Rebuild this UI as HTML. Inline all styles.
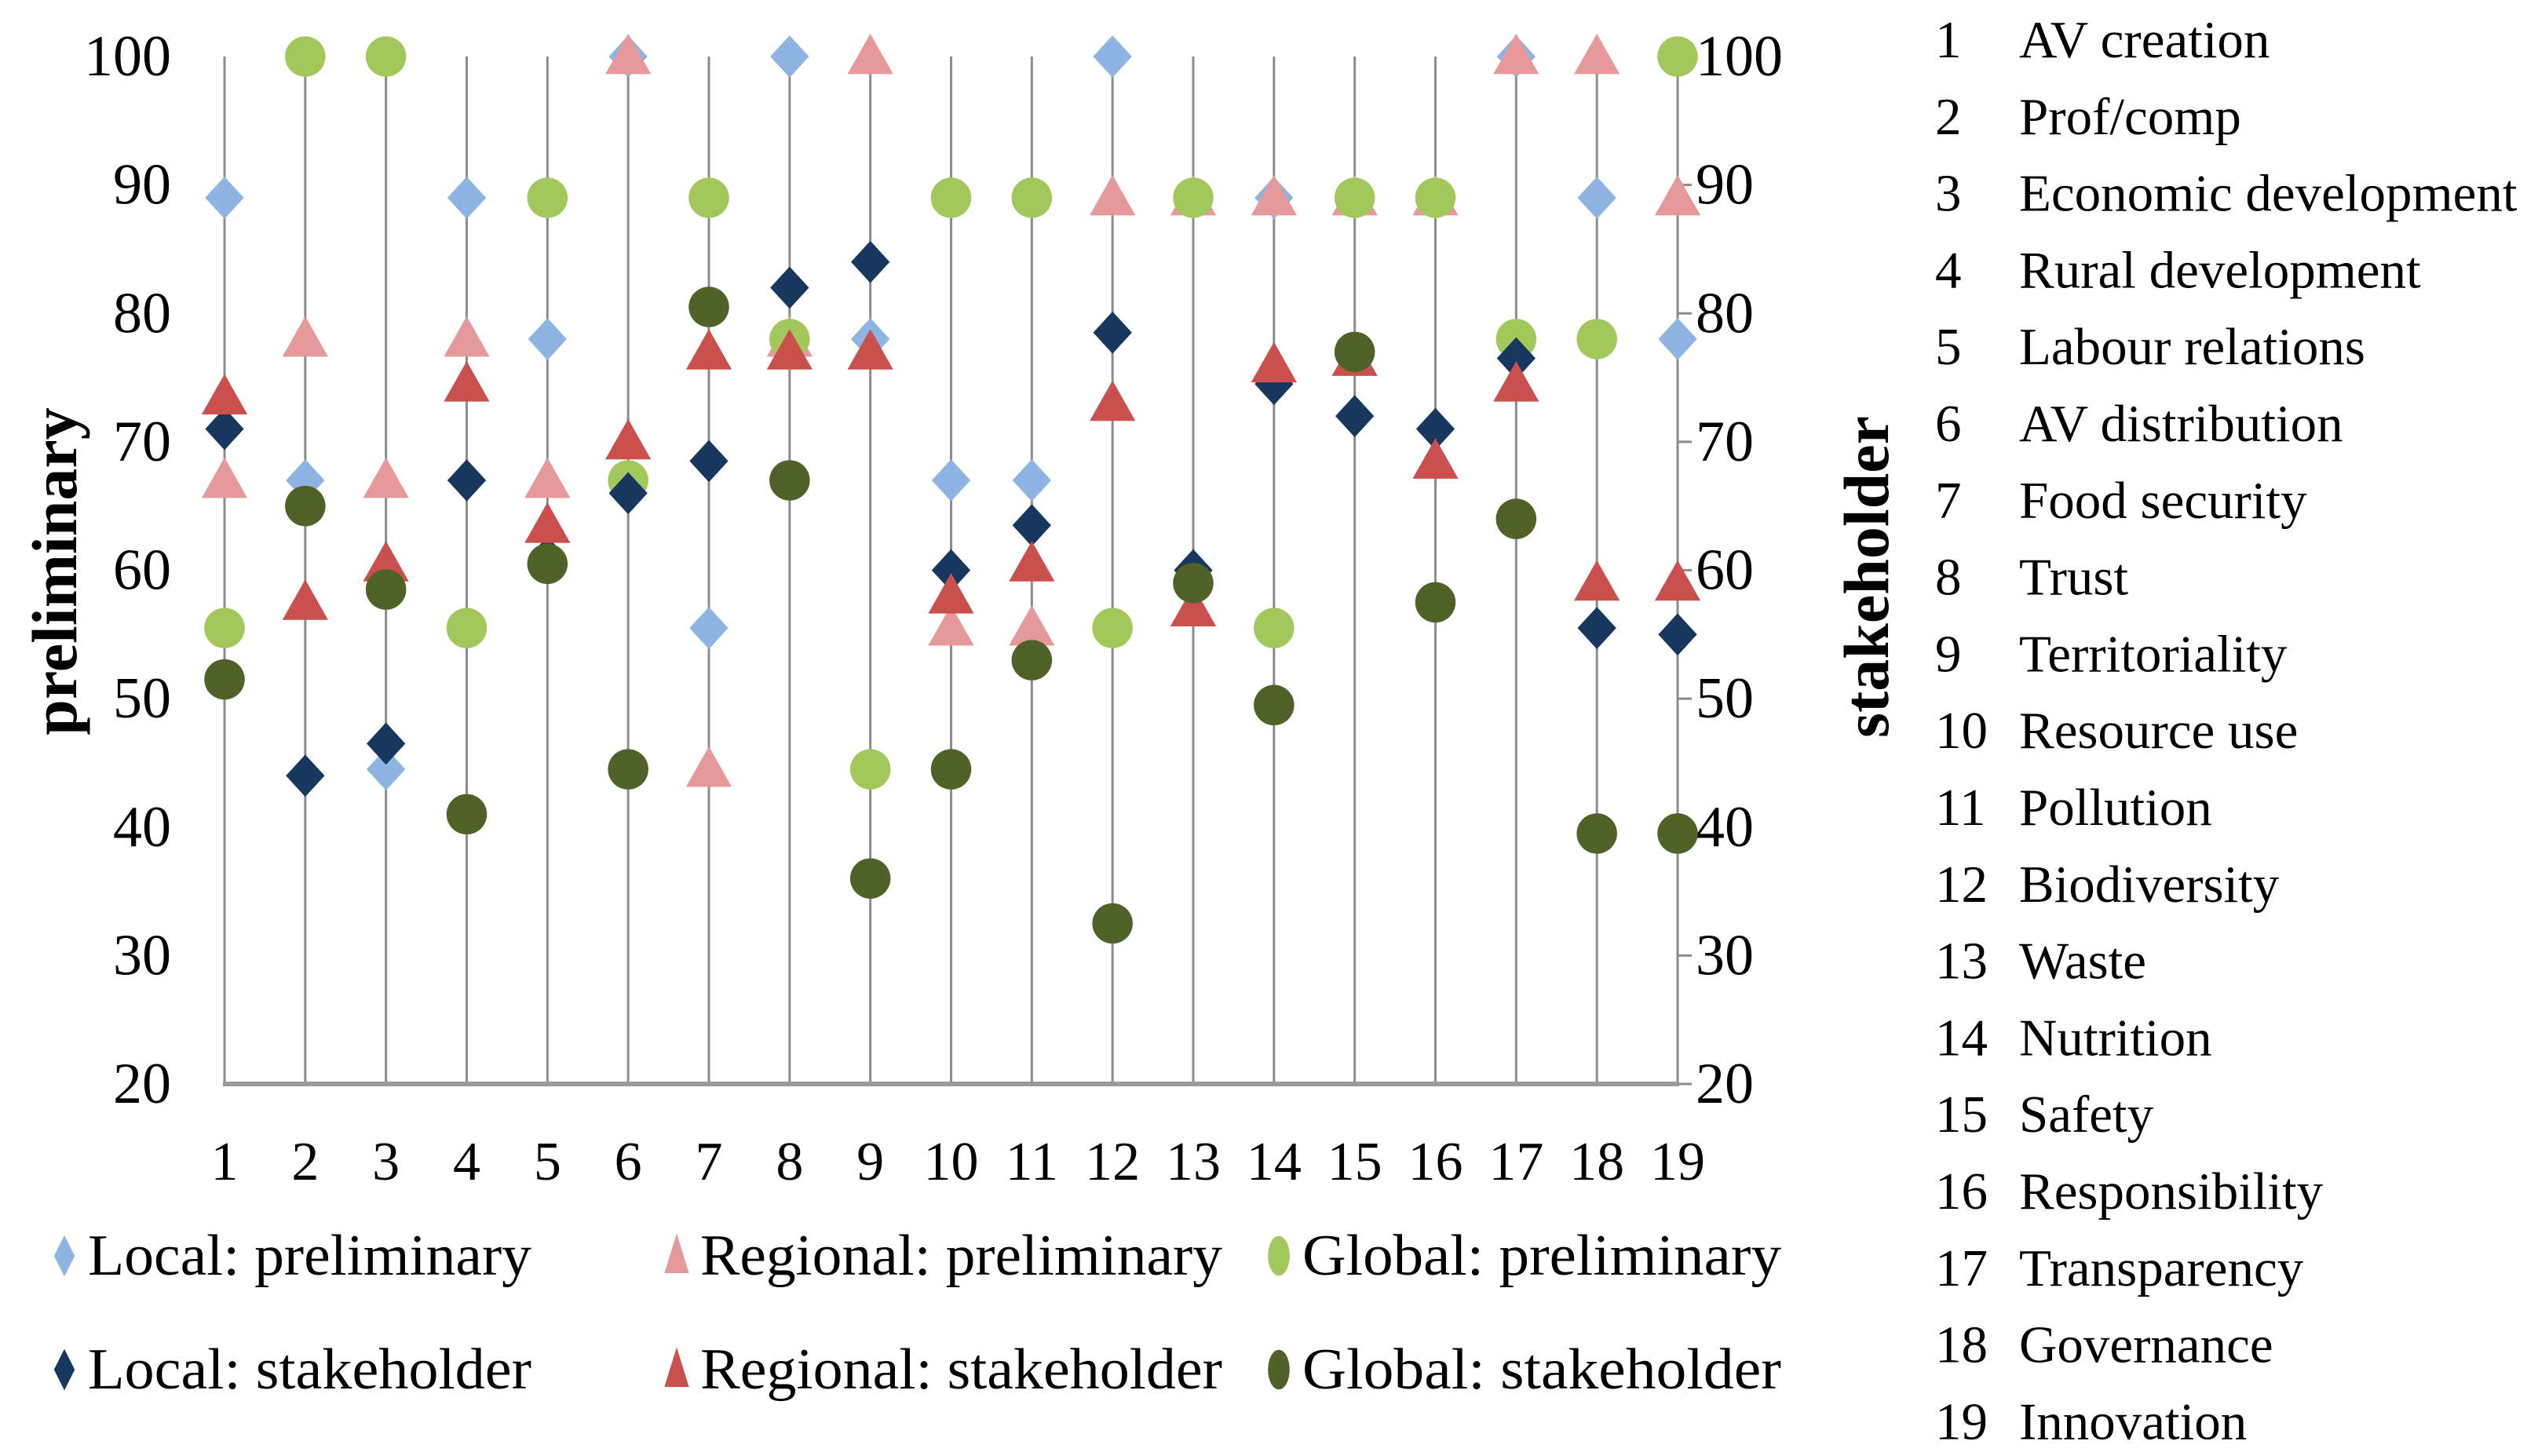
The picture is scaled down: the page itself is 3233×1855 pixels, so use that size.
<!DOCTYPE html>
<html><head><meta charset="utf-8"><style>
html,body{margin:0;padding:0;background:#fff;}
svg{display:block;font-family:"Liberation Serif",serif;}
</style></head><body>
<svg id="chart" width="3233" height="1855" viewBox="0 0 3233 1855" xmlns="http://www.w3.org/2000/svg">
<g id="grid"></g>
<g id="axes"></g>
<g id="marks"></g>
<g id="legend"></g>
<g id="catlist"></g>
</svg>
<script>
const categories = ["1","2","3","4","5","6","7","8","9","10","11","12","13","14","15","16","17","18","19"];
const categoryNames = ["AV creation","Prof/comp","Economic development","Rural development","Labour relations","AV distribution","Food security","Trust","Territoriality","Resource use","Pollution","Biodiversity","Waste","Nutrition","Safety","Responsibility","Transparency","Governance","Innovation"];
const yTicks = [20,30,40,50,60,70,80,90,100];
const localPrelim = [89,67,44.5,89,78,100,55.5,100,78,67,67,100,89,89,89,89,100,89,78];
const regionalPrelim = [67,78,67,78,67,100,44.5,78,100,55.5,55.5,89,89,89,89,89,100,100,89];
const globalPrelim = [55.5,100,100,55.5,89,67,89,78,44.5,89,89,55.5,89,55.5,89,89,78,78,100];
const localStake = [71,44,46.5,67,61,66,68.5,82,84,60,63.5,78.5,60,74.5,72,71,76.5,55.5,55];
const regionalStake = [73.5,57.5,60.5,74.5,63.5,70,77,77,77,58,60.5,73,57,76,76.5,68.5,74.5,59,59];
const globalStake = [51.5,65,58.5,41,60.5,44.5,80.5,67,36,44.5,53,32.5,59,49.5,77,57.5,64,39.5,39.5];

const NS="http://www.w3.org/2000/svg";
const X0=286, X1=2137, YT=72, YB=1381;
function xs(i){return X0+i*(X1-X0)/(categories.length-1);}
function ys(v){return YB-(v-20)/80*(YB-YT);}
function mk(tag,attrs,parent){const e=document.createElementNS(NS,tag);for(const k in attrs)e.setAttribute(k,attrs[k]);parent.appendChild(e);return e;}
const grid=document.getElementById('grid'),axes=document.getElementById('axes'),marks=document.getElementById('marks'),legend=document.getElementById('legend'),catlist=document.getElementById('catlist');

categories.forEach((c,i)=>{
  const l=mk('line',{x1:xs(i),x2:xs(i),y1:ys(100),y2:YB,stroke:'#8c8c8c','stroke-width':3},grid);
  
  
  const t=mk('text',{x:xs(i),y:1503,'text-anchor':'middle','font-size':70},axes);
  t.textContent=c;
  
  
});
const base=mk('line',{x1:X0-2,x2:X1+2,y1:YB,y2:YB,stroke:'#9a9a9a','stroke-width':6},axes);


yTicks.forEach(v=>{
  const t=mk('text',{x:218,y:ys(v)+24,'text-anchor':'end','font-size':74},axes);
  t.textContent=v;
  
  
  const t2=mk('text',{x:2160,y:ys(v)+24,'text-anchor':'start','font-size':74},axes);
  t2.textContent=v;
  
  
  const tk=mk('line',{x1:X1,x2:X1+18,y1:ys(v),y2:ys(v),stroke:'#8c8c8c','stroke-width':3},axes);
  
  
});
const lt=mk('text',{x:0,y:0,'text-anchor':'middle','font-size':82,'font-weight':'bold',transform:'translate(97,728) rotate(-90)'},axes);
lt.textContent='preliminary';


const rt=mk('text',{x:0,y:0,'text-anchor':'middle','font-size':82,'font-weight':'bold',transform:'translate(2405,735) rotate(-90)'},axes);
rt.textContent='stakeholder';



function marker(shape,color,cx,cy,parent,sx,sy){
  sx=sx||1.12; sy=sy||1.12;
  if(shape==='diamond') return mk('polygon',{points:`${cx},${cy-24*sy} ${cx+22*sx},${cy} ${cx},${cy+24*sy} ${cx-22*sx},${cy}`,fill:color},parent);
  if(shape==='tri') return mk('polygon',{points:`${cx},${cy-26*sy} ${cx+26*sx},${cy+20*sy} ${cx-26*sx},${cy+20*sy}`,fill:color},parent);
  return mk('ellipse',{cx:cx,cy:cy,rx:23*sx,ry:23*sy,fill:color},parent);
}
const series=[
 {name:'Local: preliminary',data:localPrelim,shape:'diamond',color:'#8db4e2'},
 {name:'Regional: preliminary',data:regionalPrelim,shape:'tri',color:'#e6999b'},
 {name:'Global: preliminary',data:globalPrelim,shape:'circle',color:'#a2c85c'},
 {name:'Local: stakeholder',data:localStake,shape:'diamond',color:'#17375e'},
 {name:'Regional: stakeholder',data:regionalStake,shape:'tri',color:'#c9504d'},
 {name:'Global: stakeholder',data:globalStake,shape:'circle',color:'#4f6228'}
];
series.forEach((s,si)=>{
  const key=s.name.toLowerCase().replace(/[^a-z]+/g,'-');
  s.data.forEach((v,i)=>{
    const m=marker(s.shape,s.color,xs(i),ys(v),marks);
    
    
  });
  const col=si%3,row=Math.floor(si/3);
  const lx=[82,862,1629][col], ly=[1600,1745][row];
  const lm=marker(s.shape,s.color,lx,ly,legend,0.6,1.1);
  
  
  const lt=mk('text',{x:lx+30,y:ly+24,'font-size':74,textLength:[565,665,610][col],lengthAdjust:'spacingAndGlyphs'},legend);
  lt.textContent=s.name;
  
  
});
categories.forEach((c,i)=>{
  const y=50+i*97.8+23;
  const n=mk('text',{x:2465,y:y,'font-size':67},catlist);
  n.textContent=c;
  
  
  const t=mk('text',{x:2572,y:y,'font-size':67},catlist);
  t.textContent=categoryNames[i];
  
  
});
</script>
</body></html>
